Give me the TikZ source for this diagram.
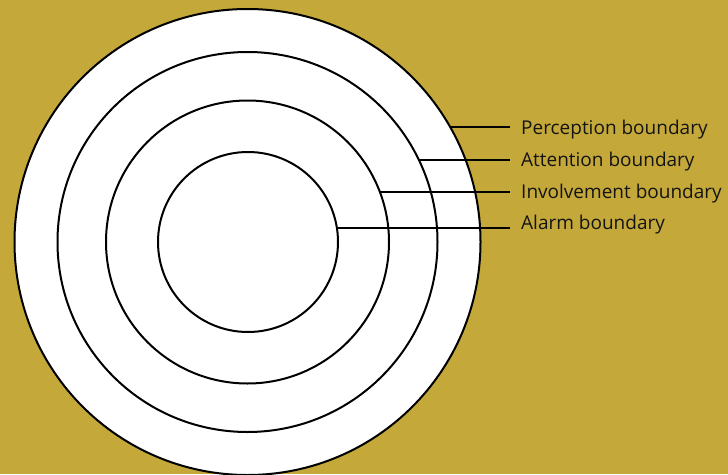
\documentclass[tikz,border=0pt]{standalone}
\usepackage{fontspec}
\setmainfont{Open Sans}
\definecolor{bgold}{RGB}{196,168,58}
\definecolor{ink}{RGB}{20,20,20}
\tikzset{
  ring/.style={circle, draw=black, line width=2pt, inner sep=0pt, outer sep=0pt},
  lbl/.style={anchor=base west, inner sep=0pt, text=ink, font=\fontsize{19}{22}\selectfont},
  lead/.style={line width=2pt, draw=black}
}
\begin{document}
\begin{tikzpicture}[x=1pt,y=-1pt]
\useasboundingbox (0,0) rectangle (728,474);
\clip (0,0) rectangle (728,474);
\fill[bgold] (0,0) rectangle (728,474);
\node[ring, fill=white, minimum size=466pt] (c1) at (247.5,242) {};
\node[ring, minimum size=380pt] (c2) at (247.5,242) {};
\node[ring, minimum size=283pt] (c3) at (247.5,242) {};
\node[ring, minimum size=180pt] (c4) at (248,242) {};
\node[lbl] (l1) at (521,134) {Perception boundary};
\node[lbl] (l2) at (521,166) {Attention boundary};
\node[lbl] (l3) at (521,198) {Involvement boundary};
\node[lbl] (l4) at (521,229.5) {Alarm boundary};
\coordinate (e1) at (510,127);
\coordinate (e2) at (510,160);
\coordinate (e3) at (510,192);
\coordinate (e4) at (510,228);
\draw[lead] (e1 -| c1.29.57) -- (e1);
\draw[lead] (e2 -| c2.25.57) -- (e2);
\draw[lead] (e3 -| c3.20.69) -- (e3);
\draw[lead] (e4 -| c4.8.95) -- (e4);
\end{tikzpicture}
\end{document}
